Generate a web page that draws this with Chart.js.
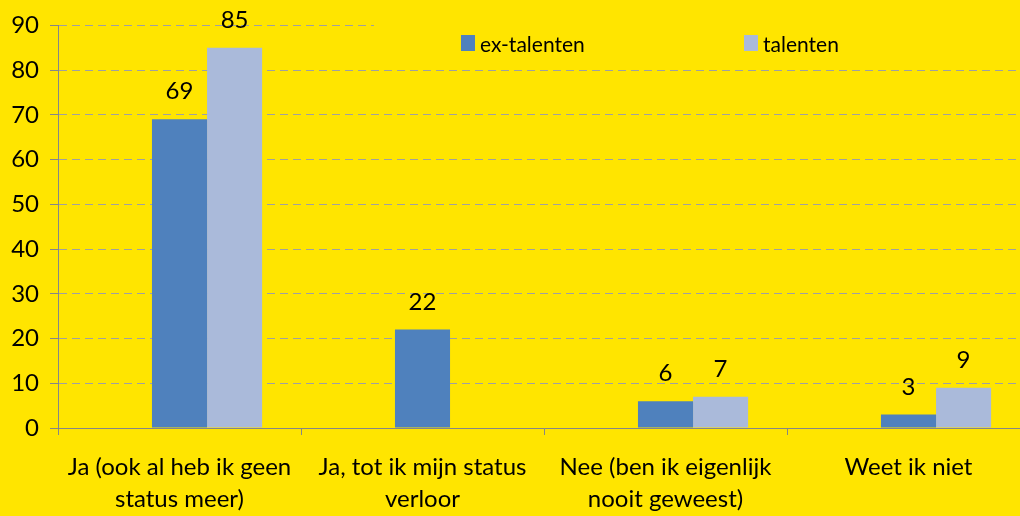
<!DOCTYPE html>
<html><head><meta charset="utf-8">
<script src="https://cdn.jsdelivr.net/npm/chart.js@4.4.1/dist/chart.umd.min.js"></script>
<style>
html,body{margin:0;padding:0;background:#FFE500;overflow:hidden;width:1020px;height:516px;}
canvas{display:block;}
</style></head>
<body>
<canvas id="c" width="1030" height="516"></canvas>
<script>
const categories = [
  ['Ja (ook al heb ik geen', 'status meer)'],
  ['Ja, tot ik mijn status', 'verloor'],
  ['Nee (ben ik eigenlijk', 'nooit geweest)'],
  ['Weet ik niet']
];
const seriesNames = ['', 'ex-talenten', 'talenten'];
const emptySeries = [null, null, null, null];
const exTalenten = [69, 22, 6, 3];
const talenten = [85, null, 7, 9];
const yTicks = [0, 10, 20, 30, 40, 50, 60, 70, 80, 90];

const FONT = 'Lato, "Open Sans", sans-serif';
const colors = ['rgba(0,0,0,0)', '#4F81BD', '#AABADA'];

const legendPlugin = {
  id: 'customLegend',
  afterDraw(chart) {
    const ctx = chart.ctx;
    ctx.save();
    ctx.fillStyle = '#FFE500';
    ctx.fillRect(374, 14, 660, 46);
    const items = [{x: 461, i: 1}, {x: 744, i: 2}];
    ctx.font = '21px ' + FONT;
    ctx.textBaseline = 'alphabetic';
    ctx.textAlign = 'left';
    items.forEach(it => {
      ctx.fillStyle = colors[it.i];
      ctx.fillRect(it.x, 35, 14, 16);
      ctx.fillStyle = '#000';
      ctx.fillText(seriesNames[it.i], it.x + 19, 52);
    });
    ctx.restore();
  }
};

const labelPlugin = {
  id: 'valueLabels',
  afterDatasetsDraw(chart) {
    const ctx = chart.ctx;
    ctx.save();
    ctx.font = '24px ' + FONT;
    ctx.fillStyle = '#000';
    ctx.textAlign = 'center';
    ctx.textBaseline = 'alphabetic';
    chart.data.datasets.forEach((ds, di) => {
      if (di === 0) return;
      const meta = chart.getDatasetMeta(di);
      meta.data.forEach((bar, i) => {
        const v = ds.data[i];
        if (v === null || v === undefined) return;
        ctx.fillText(String(v), bar.x, bar.y - 20);
      });
    });
    ctx.restore();
  }
};

new Chart(document.getElementById('c'), {
  type: 'bar',
  data: {
    labels: categories,
    datasets: [
      {label: seriesNames[0], data: emptySeries, backgroundColor: colors[0]},
      {label: seriesNames[1], data: exTalenten, backgroundColor: colors[1]},
      {label: seriesNames[2], data: talenten, backgroundColor: colors[2]}
    ]
  },
  options: {
    responsive: false,
    animation: false,
    layout: {padding: {top: 24, left: 0, right: 0, bottom: 0}},
    datasets: {bar: {categoryPercentage: 0.68, barPercentage: 1.0}},
    plugins: {legend: {display: false}, tooltip: {enabled: false}},
    scales: {
      x: {
        offset: true,
        grid: {offset: true, drawOnChartArea: false, drawTicks: true, tickLength: 7, color: '#868686'},
        border: {color: '#868686', width: 1},
        ticks: {color: '#000', font: {family: FONT, size: 24, lineHeight: 1.35}, padding: 16, maxRotation: 0, autoSkip: false},
        afterFit(s) { s.height = 88; }
      },
      y: {
        min: 0, max: 90,
        afterBuildTicks(s) { s.ticks = yTicks.map(v => ({value: v})); },
        grid: {color: '#A0A0A0', tickLength: 8, tickColor: '#868686', tickBorderDash: []},
        border: {color: '#868686', width: 1, dash: [8, 5]},
        ticks: {color: '#000', font: {family: FONT, size: 24}, padding: 11},
        afterFit(s) { s.width = 58; }
      }
    }
  },
  plugins: [legendPlugin, labelPlugin]
});
</script>
</body></html>
